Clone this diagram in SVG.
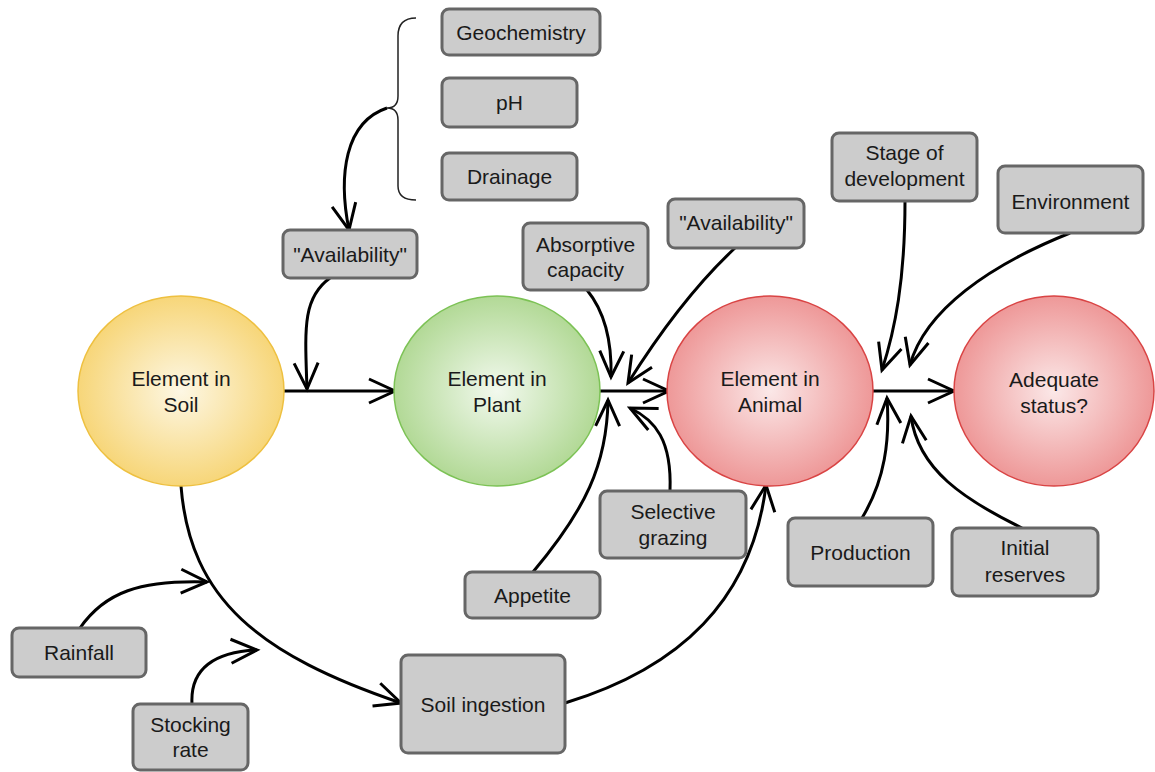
<svg xmlns="http://www.w3.org/2000/svg" width="1155" height="772" viewBox="0 0 1155 772">
<style>
.box{fill:#cccccc;stroke:#666666;stroke-width:3}
.t{font-family:"Liberation Sans",Arial,sans-serif;font-size:21px;fill:#1a1a1a;text-anchor:middle}
.c{fill:none;stroke:#000000;stroke-width:3}
.ca{fill:none;stroke:#000000;stroke-width:3;marker-end:url(#arr)}
.brace{fill:none;stroke:#222222;stroke-width:1.5}
</style>
<defs>
<radialGradient id="gSoil"><stop offset="0" stop-color="#fdf7e4"/><stop offset="1" stop-color="#f7d679"/></radialGradient>
<radialGradient id="gPlant"><stop offset="0" stop-color="#f2f9ee"/><stop offset="1" stop-color="#b2d996"/></radialGradient>
<radialGradient id="gRed"><stop offset="0" stop-color="#fbe8e8"/><stop offset="1" stop-color="#ee9898"/></radialGradient>
<marker id="arr" viewBox="-30 -16 34 32" refX="0" refY="0" markerWidth="34" markerHeight="32" markerUnits="userSpaceOnUse" orient="auto">
<path d="M -26 -12 L 0 0 L -26 12" fill="none" stroke="#000000" stroke-width="3"/>
</marker>
</defs>

<g id="connectors">
<path class="brace" d="M 416 18 C 404 18, 398 24, 398 36 L 398 96 C 398 104, 394 108, 387 108 C 394 108, 398 112, 398 120 L 398 186 C 398 196, 404 200, 416 200"/>
<path class="ca" d="M 387 108 C 345 122, 338 175, 349 230"/>
<path class="ca" d="M 284 391 L 395 391"/>
<path class="ca" d="M 330 278 C 302 298, 305 330, 307 389"/>
<path class="ca" d="M 587 290 C 605 312, 612 342, 611 377"/>
<path class="ca" d="M 735 248 C 690 290, 655 340, 628 383"/>
<path class="ca" d="M 533 572 C 585 510, 607 465, 608 400"/>
<path class="ca" d="M 670 491 C 672 440, 655 420, 630 408"/>
<path class="ca" d="M 600 391 L 669 391"/>
<path class="ca" d="M 565 703 C 680 668, 752 600, 766 485"/>
<path class="ca" d="M 181 486 C 190 600, 260 655, 401 703"/>
<path class="ca" d="M 80 628 C 105 592, 140 580, 207 582"/>
<path class="ca" d="M 192 704 C 190 668, 215 652, 257 650"/>
<path class="ca" d="M 905 201 C 905 280, 895 330, 882 370"/>
<path class="ca" d="M 1070 233 C 990 265, 925 310, 910 365"/>
<path class="ca" d="M 862 518 C 885 480, 890 440, 887 398"/>
<path class="ca" d="M 1022 528 C 965 500, 918 470, 911 416"/>
<path class="ca" d="M 873 391 L 954 391"/>
</g>

<g id="soil">
<ellipse cx="181" cy="391" rx="103" ry="95" fill="url(#gSoil)" stroke="#eec040" stroke-width="1.5"/>
<text class="t" x="181" y="386">Element in</text>
<text class="t" x="181" y="412">Soil</text>
</g>
<g id="plant">
<ellipse cx="497" cy="391" rx="103" ry="95" fill="url(#gPlant)" stroke="#7cc255" stroke-width="1.5"/>
<text class="t" x="497" y="386">Element in</text>
<text class="t" x="497" y="412">Plant</text>
</g>
<g id="animal">
<ellipse cx="770" cy="391" rx="103" ry="95" fill="url(#gRed)" stroke="#d94444" stroke-width="1.5"/>
<text class="t" x="770" y="386">Element in</text>
<text class="t" x="770" y="412">Animal</text>
</g>
<g id="adequate">
<ellipse cx="1054" cy="391" rx="100" ry="95" fill="url(#gRed)" stroke="#d94444" stroke-width="1.5"/>
<text class="t" x="1054" y="387">Adequate</text>
<text class="t" x="1054" y="413">status?</text>
</g>

<g id="geochemistry">
<rect class="box" x="442" y="9" width="158" height="46" rx="7"/>
<text class="t" x="521" y="40">Geochemistry</text>
</g>
<g id="ph">
<rect class="box" x="442" y="78" width="135" height="49" rx="7"/>
<text class="t" x="509.5" y="110">pH</text>
</g>
<g id="drainage">
<rect class="box" x="442" y="153" width="135" height="47" rx="7"/>
<text class="t" x="509.5" y="184">Drainage</text>
</g>
<g id="availability1">
<rect class="box" x="283" y="230" width="134" height="48" rx="7"/>
<text class="t" x="350" y="262">"Availability"</text>
</g>
<g id="absorptive">
<rect class="box" x="523" y="223" width="125" height="67" rx="7"/>
<text class="t" x="585.5" y="252">Absorptive</text>
<text class="t" x="585.5" y="277">capacity</text>
</g>
<g id="availability2">
<rect class="box" x="668" y="199" width="136" height="49" rx="7"/>
<text class="t" x="736" y="230">"Availability"</text>
</g>
<g id="stage">
<rect class="box" x="832" y="133" width="145" height="68" rx="7"/>
<text class="t" x="904.5" y="160">Stage of</text>
<text class="t" x="904.5" y="186">development</text>
</g>
<g id="environment">
<rect class="box" x="998" y="166" width="145" height="67" rx="7"/>
<text class="t" x="1070.5" y="209">Environment</text>
</g>
<g id="rainfall">
<rect class="box" x="12" y="628" width="134" height="49" rx="7"/>
<text class="t" x="79" y="660">Rainfall</text>
</g>
<g id="stocking">
<rect class="box" x="133" y="704" width="115" height="66" rx="7"/>
<text class="t" x="190.5" y="732">Stocking</text>
<text class="t" x="190.5" y="757">rate</text>
</g>
<g id="soilingestion">
<rect class="box" x="401" y="655" width="164" height="98" rx="7"/>
<text class="t" x="483" y="712">Soil ingestion</text>
</g>
<g id="appetite">
<rect class="box" x="465" y="572" width="135" height="46" rx="7"/>
<text class="t" x="532.5" y="603">Appetite</text>
</g>
<g id="selective">
<rect class="box" x="600" y="491" width="146" height="67" rx="7"/>
<text class="t" x="673" y="519">Selective</text>
<text class="t" x="673" y="545">grazing</text>
</g>
<g id="production">
<rect class="box" x="788" y="518" width="145" height="68" rx="7"/>
<text class="t" x="860.5" y="560">Production</text>
</g>
<g id="initial">
<rect class="box" x="952" y="528" width="146" height="68" rx="7"/>
<text class="t" x="1025" y="555">Initial</text>
<text class="t" x="1025" y="582">reserves</text>
</g>
</svg>
